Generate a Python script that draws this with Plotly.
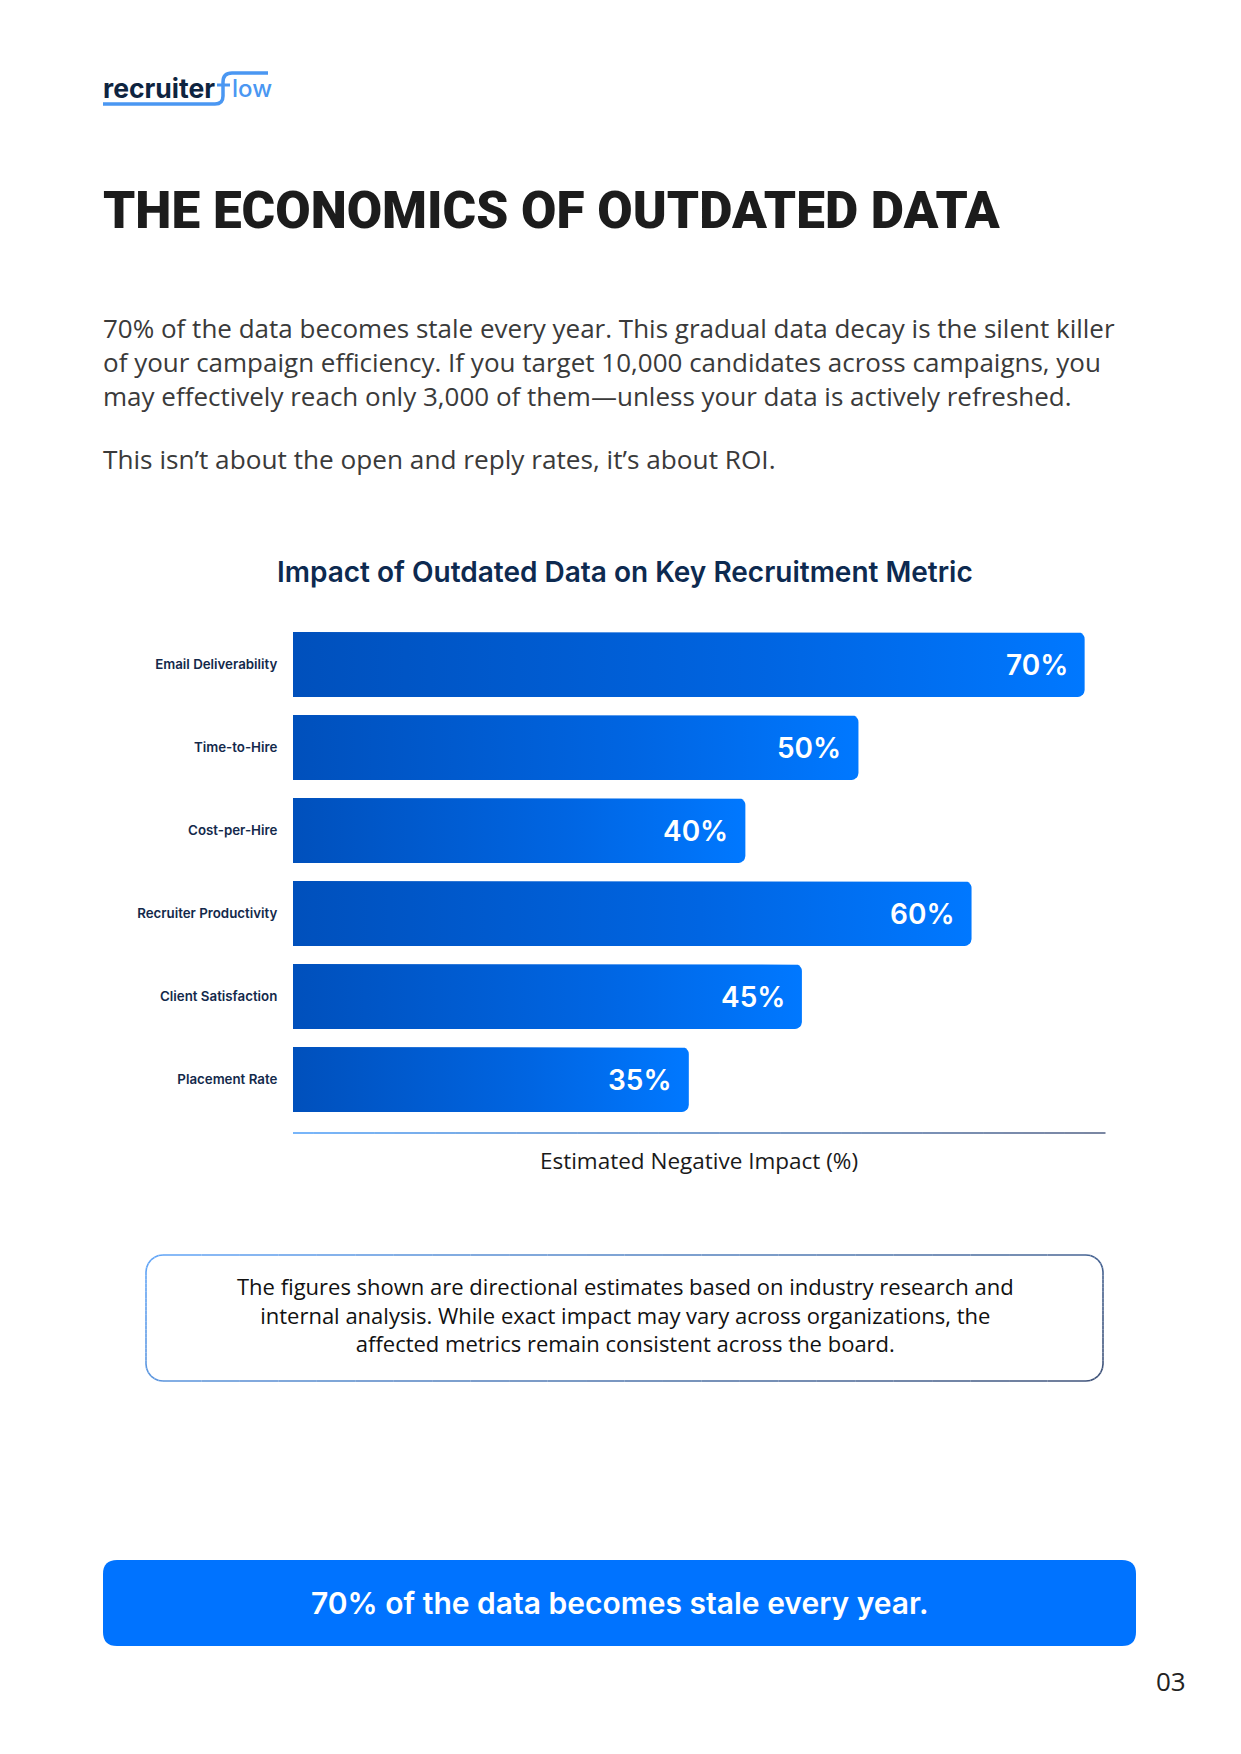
import numpy as np
import plotly.graph_objects as go

W, H = 1241, 1754

categories = ["Email Deliverability", "Time-to-Hire", "Cost-per-Hire",
              "Recruiter Productivity", "Client Satisfaction", "Placement Rate"]
impact_values = [70, 50, 40, 60, 45, 35]
value_labels = ["70%", "50%", "40%", "60%", "45%", "35%"]

paragraph_lines = [
    "70% of the data becomes stale every year. This gradual data decay is the silent killer",
    "of your campaign efficiency. If you target 10,000 candidates across campaigns, you",
    "may effectively reach only 3,000 of them\u2014unless your data is actively refreshed.",
]
paragraph2 = "This isn\u2019t about the open and reply rates, it\u2019s about ROI."
note_lines = [
    "The figures shown are directional estimates based on industry research and",
    "internal analysis. While exact impact may vary across organizations, the",
    "affected metrics remain consistent across the board.",
]
title_text = "THE ECONOMICS OF OUTDATED DATA"
chart_title = "Impact of Outdated Data on Key Recruitment Metric"
axis_title = "Estimated Negative Impact (%)"
banner_text = "70% of the data becomes stale every year."
page_no = "03"


def px_x(X):
    return X / W


def px_y(Y):
    return 1 - Y / H


def rrect(x0, y0, x1, y1, r):
    return (f"M {px_x(x0 + r)},{px_y(y0)} L {px_x(x1 - r)},{px_y(y0)} "
            f"Q {px_x(x1)},{px_y(y0)} {px_x(x1)},{px_y(y0 + r)} "
            f"L {px_x(x1)},{px_y(y1 - r)} Q {px_x(x1)},{px_y(y1)} {px_x(x1 - r)},{px_y(y1)} "
            f"L {px_x(x0 + r)},{px_y(y1)} Q {px_x(x0)},{px_y(y1)} {px_x(x0)},{px_y(y1 - r)} "
            f"L {px_x(x0)},{px_y(y0 + r)} Q {px_x(x0)},{px_y(y0)} {px_x(x0 + r)},{px_y(y0)} Z")


def mix(c1, c2, f):
    f = min(max(f, 0), 1)
    a = [int(c1[i:i + 2], 16) for i in (1, 3, 5)]
    b = [int(c2[i:i + 2], 16) for i in (1, 3, 5)]
    return "#" + "".join(f"{int(round(a[k] + (b[k] - a[k]) * f)):02x}" for k in range(3))


def rrect_outline(x0, y0, x1, y1, r, nseg_edge=24, nseg_arc=6):
    pts = []
    def edge(p, q):
        for k in range(nseg_edge):
            pts.append((p[0] + (q[0] - p[0]) * k / nseg_edge, p[1] + (q[1] - p[1]) * k / nseg_edge))
    def arc(cx, cy, a0):
        for k in range(nseg_arc):
            a = a0 + (np.pi / 2) * k / nseg_arc
            pts.append((cx + r * np.cos(a), cy + r * np.sin(a)))
    edge((x0 + r, y0), (x1 - r, y0))
    arc(x1 - r, y0 + r, -np.pi / 2)
    edge((x1, y0 + r), (x1, y1 - r))
    arc(x1 - r, y1 - r, 0)
    edge((x1 - r, y1), (x0 + r, y1))
    arc(x0 + r, y1 - r, np.pi / 2)
    edge((x0, y1 - r), (x0, y0 + r))
    arc(x0 + r, y0 + r, np.pi)
    pts.append(pts[0])
    return pts


# plot area geometry (pixels)
PX0, PX1 = 293, 1105
PY0, PY1 = 623, 1133
XMAX = 71.8
YBOT = 5.645
px_per_x = (PX1 - PX0) / XMAX
px_per_y = (PY1 - PY0) / (YBOT + 0.5)

half = 0.3916
rad = 7.0
rx = rad / px_per_x
ry = rad / px_per_y

fig = go.Figure()

t = np.linspace(0, np.pi / 2, 8)
for i, v in enumerate(impact_values):
    top = i - half
    bot = i + half
    xs = [0, v - rx]
    ys = [top, top]
    xs += list(v - rx + rx * np.sin(t))
    ys += list(top + ry - ry * np.cos(t))
    xs += [v]
    ys += [bot - ry]
    xs += list(v - rx + rx * np.cos(t))
    ys += list(bot - ry + ry * np.sin(t))
    xs += [0, 0]
    ys += [bot, top]
    fig.add_trace(go.Scatter(
        x=xs, y=ys, mode="lines", fill="toself",
        line=dict(width=0, color="rgba(0,0,0,0)"),
        fillgradient=dict(type="horizontal", start=0, stop=v,
                          colorscale=[[0, "#0050BC"], [0.6, "#0065E2"], [1, "#0078FF"]]),
        hoverinfo="skip", showlegend=False))

annotations = []
for i, (v, lab) in enumerate(zip(impact_values, value_labels)):
    annotations.append(dict(
        x=v, y=i, xref="x", yref="y", text=lab, showarrow=False,
        xanchor="right", yanchor="middle", xshift=-15, yshift=-1,
        font=dict(family="Inter, Noto Sans, sans-serif", size=28, color="white", weight=600)))

# Title
annotations.append(dict(x=px_x(101), y=px_y(210), xref="paper", yref="paper", text=title_text,
                        showarrow=False, xanchor="left", yanchor="middle",
                        font=dict(family="Roboto, sans-serif", size=51.3, color="#1C1C1C", weight=900)))

# paragraph
PFONT = dict(family="Open Sans, sans-serif", size=26, color="#3A3A3A")
annotations.append(dict(x=px_x(101), y=px_y(362), xref="paper", yref="paper",
                        text="<br>".join(paragraph_lines), align="left",
                        showarrow=False, xanchor="left", yanchor="middle", font=PFONT))
annotations.append(dict(x=px_x(101), y=px_y(459), xref="paper", yref="paper", text=paragraph2,
                        showarrow=False, xanchor="left", yanchor="middle",
                        font=dict(family="Open Sans, sans-serif", size=26.2, color="#3A3A3A")))

# chart title
annotations.append(dict(x=px_x(625), y=px_y(572), xref="paper", yref="paper", text=chart_title,
                        showarrow=False, xanchor="center", yanchor="middle",
                        font=dict(family="Inter, Noto Sans, sans-serif", size=28, color="#0D2A50", weight=600)))

# note box text
annotations.append(dict(x=px_x(625), y=px_y(1314), xref="paper", yref="paper",
                        text="<br>".join(note_lines), align="center",
                        showarrow=False, xanchor="center", yanchor="middle",
                        font=dict(family="Open Sans, sans-serif", size=22, color="#111111")))

# banner text
annotations.append(dict(x=px_x(620), y=px_y(1603), xref="paper", yref="paper", text=banner_text,
                        showarrow=False, xanchor="center", yanchor="middle",
                        font=dict(family="Inter, Noto Sans, sans-serif", size=30, color="white", weight=600)))
# page number
annotations.append(dict(x=px_x(1171), y=px_y(1681), xref="paper", yref="paper", text=page_no,
                        showarrow=False, xanchor="center", yanchor="middle",
                        font=dict(family="Open Sans, sans-serif", size=26, color="#222222")))

# logo text
annotations.append(dict(x=px_x(101), y=px_y(88), xref="paper", yref="paper", text="recruiter",
                        showarrow=False, xanchor="left", yanchor="middle",
                        font=dict(family="Inter, sans-serif", size=26.5, color="#0E2440", weight=700)))
annotations.append(dict(x=px_x(230), y=px_y(88), xref="paper", yref="paper", text="low",
                        showarrow=False, xanchor="left", yanchor="middle",
                        font=dict(family="Inter, sans-serif", size=24, color="#4A97F2", weight=500)))

shapes = []
# logo swoosh (f)
shapes.append(dict(type="path", xref="paper", yref="paper",
                   path=(f"M {px_x(103)},{px_y(104)} L {px_x(215)},{px_y(104)} "
                         f"Q {px_x(223)},{px_y(104)} {px_x(223)},{px_y(96)} "
                         f"L {px_x(223)},{px_y(82)} Q {px_x(223)},{px_y(73)} {px_x(232)},{px_y(73)} "
                         f"L {px_x(268)},{px_y(73)}"),
                   line=dict(color="#4A97F2", width=3.5)))
shapes.append(dict(type="line", xref="paper", yref="paper",
                   x0=px_x(217), x1=px_x(230), y0=px_y(85), y1=px_y(85),
                   line=dict(color="#4A97F2", width=3)))

# x axis line with gradient
NSEG = 40
for k in range(NSEG):
    f0 = k / NSEG
    f1 = (k + 1) / NSEG
    shapes.append(dict(type="line", xref="paper", yref="paper",
                       x0=px_x(PX0 + (PX1 - PX0) * f0), x1=px_x(PX0 + (PX1 - PX0) * f1 + 0.5),
                       y0=px_y(PY1), y1=px_y(PY1),
                       line=dict(color=mix("#78B6FA", "#7A86A2", (f0 + f1) / 2), width=2)))

# note box with gradient border
BX0, BY0, BX1, BY1 = 146, 1255, 1103, 1381
pts = rrect_outline(BX0, BY0, BX1, BY1, 17)
for p, q in zip(pts[:-1], pts[1:]):
    fx = ((p[0] + q[0]) / 2 - BX0) / (BX1 - BX0)
    fy = ((p[1] + q[1]) / 2 - BY0) / (BY1 - BY0)
    f = 0.8 * fx + 0.2 * fy
    shapes.append(dict(type="line", xref="paper", yref="paper",
                       x0=px_x(p[0]), y0=px_y(p[1]), x1=px_x(q[0]), y1=px_y(q[1]),
                       line=dict(color=mix("#62A6F8", "#3F5278", f), width=1.6)))
# banner
shapes.append(dict(type="path", xref="paper", yref="paper", path=rrect(103, 1560, 1136, 1646, 14),
                   line=dict(width=0), fillcolor="#0073FF"))

fig.update_layout(
    width=W, height=H, margin=dict(l=0, r=0, t=0, b=0),
    paper_bgcolor="white", plot_bgcolor="white",
    showlegend=False,
    annotations=annotations, shapes=shapes,
    xaxis=dict(domain=[px_x(PX0), px_x(PX1)], range=[0, XMAX], showgrid=False, zeroline=False,
               showticklabels=False, ticks="", showline=False,
               title=dict(text=axis_title, standoff=20,
                          font=dict(family="Open Sans, sans-serif", size=22.5, color="#1A1A1A"))),
    yaxis=dict(domain=[px_y(PY1), px_y(PY0)], range=[YBOT, -0.5], tickmode="array",
               tickvals=list(range(len(categories))), ticktext=categories,
               showgrid=False, zeroline=False, showline=False,
               ticks="outside", ticklen=12, tickcolor="rgba(0,0,0,0)",
               tickfont=dict(family="Inter, Noto Sans, sans-serif", size=13.3, color="#13294B", weight=600)),
)

fig.write_html("out.html", config={"displayModeBar": False},
               post_script="document.body.style.margin='0';")
